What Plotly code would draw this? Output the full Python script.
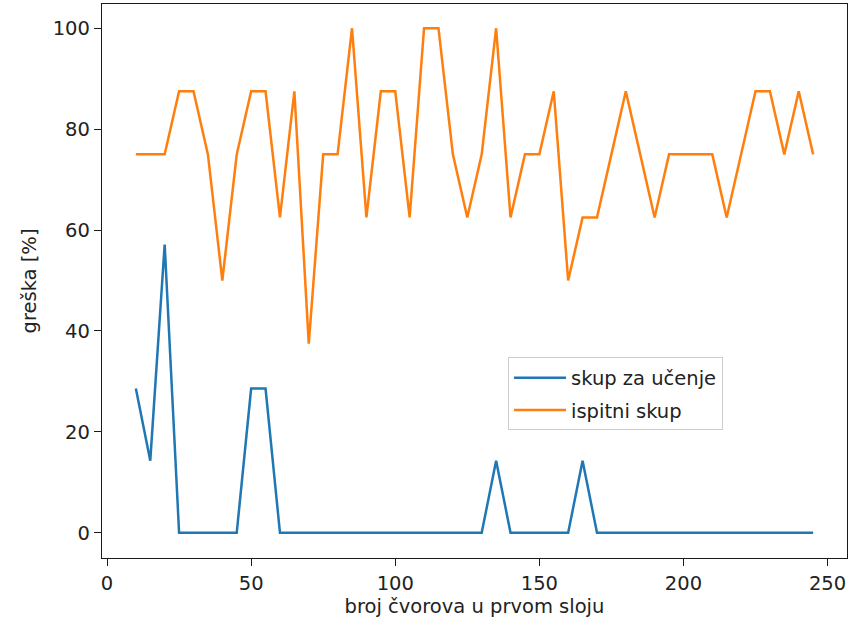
import plotly.graph_objects as go

x_nodes = list(range(10, 250, 5))
train_err = [28.57, 14.29, 57.14, 0, 0, 0, 0, 0, 28.57, 28.57,
             0, 0, 0, 0, 0, 0, 0, 0, 0, 0,
             0, 0, 0, 0, 0, 14.29, 0, 0, 0, 0,
             0, 14.29, 0, 0, 0, 0, 0, 0, 0, 0,
             0, 0, 0, 0, 0, 0, 0, 0]
test_err = [75, 75, 75, 87.5, 87.5, 75, 50, 75, 87.5, 87.5,
            62.5, 87.5, 37.5, 75, 75, 100, 62.5, 87.5, 87.5, 62.5,
            100, 100, 75, 62.5, 75, 100, 62.5, 75, 75, 87.5,
            50, 62.5, 62.5, 75, 87.5, 75, 62.5, 75, 75, 75,
            75, 62.5, 75, 87.5, 87.5, 75, 87.5, 75]

x_ticks = [0, 50, 100, 150, 200, 250]
y_ticks = [0, 20, 40, 60, 80, 100]

FS = 19.5

fig = go.Figure()
fig.add_trace(go.Scatter(x=x_nodes, y=train_err, mode="lines", name="skup za učenje",
                         legendgroup="a", line=dict(color="#1f77b4", width=2.5)))
fig.add_trace(go.Scatter(x=x_nodes, y=test_err, mode="lines", name="ispitni skup",
                         legendgroup="b", line=dict(color="#ff7f0e", width=2.5)))

axis_common = dict(showgrid=False, zeroline=False, showline=True, linecolor="#1a1a1a",
                   linewidth=1.3, mirror=True, ticks="outside", ticklen=7, tickwidth=1.3,
                   tickcolor="#1a1a1a", tickfont=dict(size=FS, color="#222"))

fig.update_layout(
    width=859, height=624,
    margin=dict(l=102, r=12, t=4, b=66),
    paper_bgcolor="white", plot_bgcolor="white",
    font=dict(family="DejaVu Sans", size=FS, color="#222"),
    xaxis=dict(range=[-1.75, 256.75], tickvals=x_ticks,
               title=dict(text="broj čvorova u prvom sloju", font=dict(size=FS), standoff=4),
               **axis_common),
    yaxis=dict(range=[-5, 104.8], tickvals=y_ticks,
               title=dict(text="greška [%]", font=dict(size=FS), standoff=10),
               **axis_common),
    legend=dict(x=0.545, y=0.362, xanchor="left", yanchor="top",
                bgcolor="rgba(255,255,255,0.8)", bordercolor="#cccccc", borderwidth=1,
                font=dict(size=FS, color="#222"), itemwidth=52, entrywidth=228,
                tracegroupgap=4),
    showlegend=True,
)

fig.write_html("out.html")
